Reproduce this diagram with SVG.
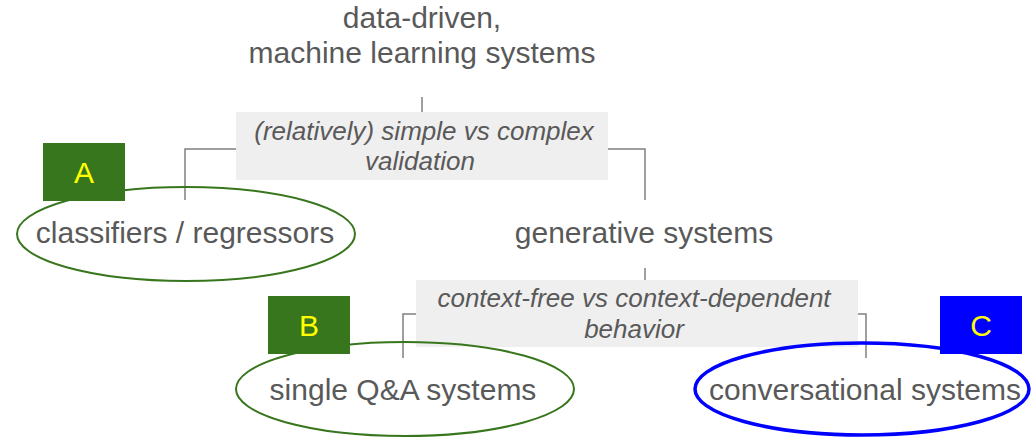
<svg xmlns="http://www.w3.org/2000/svg" width="1031" height="439" viewBox="0 0 1031 439">
<style>
.t{font-family:"Liberation Sans",Arial,sans-serif;font-size:30px;fill:#595959;text-anchor:middle}
.q{font-family:"Liberation Sans",Arial,sans-serif;font-size:26px;font-style:italic;fill:#595959;text-anchor:middle}
.lb{fill:#efefef}
.c{fill:none;stroke:#808080;stroke-width:1.5}
.g{fill:none;stroke:#38761d;stroke-width:2}
.b{fill:none;stroke:#0000ff;stroke-width:3.5}
.L{font-family:"Liberation Sans",Arial,sans-serif;font-size:30px;fill:#ffff00;text-anchor:middle}
</style>
<rect width="1031" height="439" fill="#ffffff"/>
<g id="connectors">
<path class="c" d="M422 97V112"/>
<path class="c" d="M236 149H185V200"/>
<path class="c" d="M608 149H645V200"/>
<path class="c" d="M645 268V280"/>
<path class="c" d="M416 314H403V358"/>
<path class="c" d="M858 314H866V358"/>
</g>
<g id="label-validation">
<rect class="lb" x="236" y="112" width="372" height="68"/>
<text class="q" x="424" y="140">(relatively) simple vs complex</text>
<text class="q" x="420" y="170">validation</text>
</g>
<g id="label-behavior">
<rect class="lb" x="416" y="280" width="442" height="67"/>
<text class="q" x="634" y="307">context-free vs context-dependent</text>
<text class="q" x="634" y="338">behavior</text>
</g>
<g id="node-root">
<text class="t" x="422" y="28">data-driven,</text>
<text class="t" x="422" y="63">machine learning systems</text>
</g>
<g id="node-classifiers">
<ellipse class="g" cx="186" cy="234" rx="169" ry="47"/>
<text class="t" x="185" y="243">classifiers / regressors</text>
</g>
<g id="badge-A">
<rect x="43" y="143" width="82" height="58" fill="#38761d"/>
<text class="L" x="84" y="183">A</text>
</g>
<g id="node-generative">
<text class="t" x="644" y="243">generative systems</text>
</g>
<g id="node-single">
<ellipse class="g" cx="405" cy="389" rx="169" ry="47"/>
<text class="t" x="403" y="400">single Q&amp;A systems</text>
</g>
<g id="badge-B">
<rect x="268" y="296" width="82" height="58" fill="#38761d"/>
<text class="L" x="309" y="336">B</text>
</g>
<g id="node-conversational">
<ellipse class="b" cx="862" cy="389" rx="167" ry="46"/>
<text class="t" x="865" y="400">conversational systems</text>
</g>
<g id="badge-C">
<rect x="940" y="296" width="82" height="58" fill="#0000ff"/>
<text class="L" x="981" y="336">C</text>
</g>
</svg>
